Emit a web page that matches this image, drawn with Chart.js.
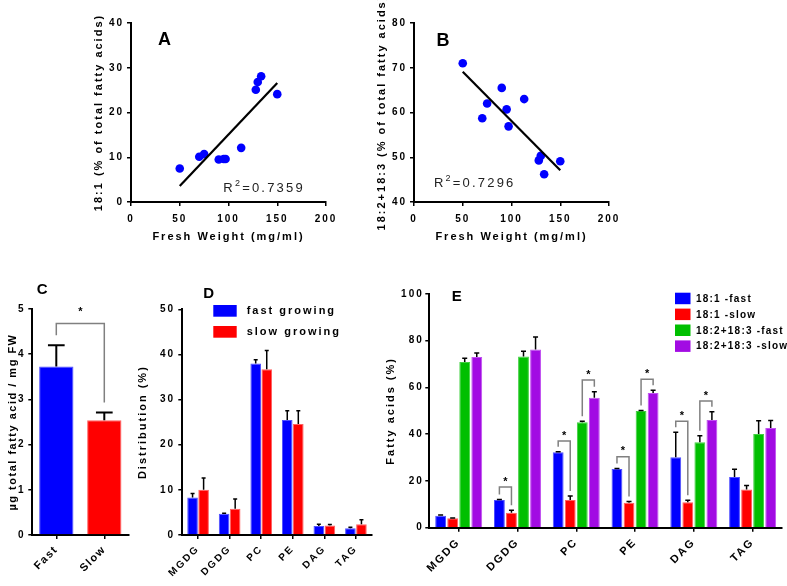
<!DOCTYPE html>
<html>
<head>
<meta charset="utf-8">
<script src="https://cdn.jsdelivr.net/npm/chart.js@4.4.1/dist/chart.umd.min.js"></script>
<style>
  html, body { margin: 0; background: #fff; }
  #fig { position: relative; width: 787px; height: 586px; overflow: hidden; }
  #fig canvas { position: absolute; }
</style>
</head>
<body>
<div id="fig">
  <canvas id="chartA" width="345" height="255" style="left:0;top:0"></canvas>
  <canvas id="chartB" width="345" height="255" style="left:283px;top:0"></canvas>
  <canvas id="chartC" width="140" height="316" style="left:0;top:270px"></canvas>
  <canvas id="chartD" width="250" height="316" style="left:130px;top:270px"></canvas>
  <canvas id="chartE" width="417" height="316" style="left:370px;top:270px"></canvas>
</div>
<script>
const FONT = "'Liberation Sans', Arial, sans-serif";
const BLUE = '#0000FF', RED = '#FF0000', GREEN = '#00BF00', PURPLE = '#A20BE3';

// A + B: fresh weight vs fatty acid share
const freshWeight = [50, 70, 75, 90, 95, 97, 113, 128, 130, 133.5, 150];
const oleicShare = [7.5, 10.1, 10.7, 9.5, 9.6, 9.6, 12.1, 25.1, 26.8, 28.1, 24.1];
const polyShare = [71.0, 58.7, 62.0, 65.5, 60.7, 56.9, 63.0, 49.3, 50.3, 46.2, 49.1];
const fitLineX = [50, 150];
const fitA = [3.6, 26.6];
const fitB = [69.1, 47.1];

// C: total fatty acids
const growthGroups = ['Fast', 'Slow'];
const totalFA = [3.73, 2.54];
const totalFAErr = [0.47, 0.17];

// D: lipid class distribution
const lipidClasses = ['MGDG', 'DGDG', 'PC', 'PE', 'DAG', 'TAG'];
const distFast = [8.3, 4.7, 38.0, 25.5, 2.0, 1.5];
const distFastErr = [0.9, 0.1, 0.8, 2.0, 0.4, 0.2];
const distSlow = [10.0, 5.8, 36.7, 24.6, 2.1, 2.4];
const distSlowErr = [2.6, 2.2, 4.2, 2.9, 0.2, 1.0];

// E: fatty acids per lipid class
const fa181Fast = [5.1, 11.8, 32.3, 25.1, 30.1, 21.7];
const fa181FastErr = [0.3, 0.3, 0.2, 0.2, 10.7, 3.3];
const fa181Slow = [4.0, 6.4, 11.9, 10.7, 10.9, 16.3];
const fa181SlowErr = [0.2, 1.1, 1.7, 0.5, 0.8, 1.8];
const fa18xFast = [70.9, 73.3, 45.1, 49.9, 36.6, 40.1];
const fa18xFastErr = [1.6, 2.2, 0.5, 0.3, 2.7, 5.7];
const fa18xSlow = [73.0, 76.3, 55.6, 57.6, 46.1, 42.7];
const fa18xSlowErr = [1.8, 5.3, 2.6, 1.2, 3.5, 3.2];
// significance brackets: [category, datasetA, datasetB, top]
const sigE = [[1, 0, 1, 17.4], [2, 0, 1, 37.1], [2, 2, 3, 63.2], [3, 0, 1, 30.4], [3, 2, 3, 63.5], [4, 0, 1, 45.6], [4, 2, 3, 54.2]];

Chart.defaults.font.family = FONT;
Chart.defaults.font.weight = 'bold';
Chart.defaults.color = '#000';
Chart.defaults.animation = false;
Chart.defaults.plugins.legend.display = false;
Chart.defaults.plugins.tooltip.enabled = false;

// letter spacing for all of the chart's own text
const spacingPlugin = {
    id: 'spacing',
    beforeDraw(chart, args, opts) {
        chart.ctx.letterSpacing = (opts.px || 0) + 'px';
    }
};

const notesPlugin = {
    id: 'notes',
    afterDraw(chart, args, opts) {
        const ctx = chart.ctx;
        (opts.items || []).forEach(n => {
            ctx.save();
            ctx.letterSpacing = '0px';
            ctx.font = n.font;
            ctx.fillStyle = '#000';
            ctx.textAlign = 'left';
            ctx.textBaseline = 'alphabetic';
            ctx.fillText(n.text, n.x, n.y);
            ctx.restore();
        });
    }
};

const r2Plugin = {
    id: 'r2',
    afterDraw(chart, args, opts) {
        if (!opts.text) return;
        const { ctx, scales } = chart;
        let px = scales.x.getPixelForValue(opts.x);
        const py = scales.y.getPixelForValue(opts.y);
        ctx.save();
        ctx.letterSpacing = '2.2px';
        ctx.fillStyle = '#222';
        ctx.textBaseline = 'alphabetic';
        ctx.font = `13px ${FONT}`;
        ctx.fillText('R', px, py);
        px += ctx.measureText('R').width;
        ctx.font = `9px ${FONT}`;
        ctx.fillText('2', px, py - 6);
        px += ctx.measureText('2').width;
        ctx.font = `13px ${FONT}`;
        ctx.fillText('=' + opts.text, px, py);
        ctx.restore();
    }
};

const errorBarPlugin = {
    id: 'errorBars',
    afterDatasetsDraw(chart, args, opts) {
        const ctx = chart.ctx;
        const y = chart.scales.y;
        chart.data.datasets.forEach((ds, i) => {
            if (!ds.errors) return;
            chart.getDatasetMeta(i).data.forEach((bar, j) => {
                const top = y.getPixelForValue(ds.data[j] + ds.errors[j]);
                ctx.save();
                ctx.strokeStyle = '#000';
                ctx.lineWidth = opts.width || 1.5;
                ctx.beginPath();
                ctx.moveTo(bar.x, bar.y);
                ctx.lineTo(bar.x, top);
                ctx.moveTo(bar.x - opts.cap / 2, top);
                ctx.lineTo(bar.x + opts.cap / 2, top);
                ctx.stroke();
                ctx.restore();
            });
        });
    }
};

const bracketPlugin = {
    id: 'brackets',
    afterDatasetsDraw(chart, args, opts) {
        if (!opts.items) return;
        const ctx = chart.ctx;
        const y = chart.scales.y;
        const tip = (ds, idx) => {
            const d = chart.data.datasets[ds];
            const bar = chart.getDatasetMeta(ds).data[idx];
            return { x: bar.x, y: y.getPixelForValue(d.data[idx] + (d.errors ? d.errors[idx] : 0)) };
        };
        opts.items.forEach(b => {
            const a = tip(b.from[0], b.from[1]);
            const c = tip(b.to[0], b.to[1]);
            const top = y.getPixelForValue(b.top);
            ctx.save();
            ctx.strokeStyle = '#808080';
            ctx.lineWidth = 1.5;
            ctx.beginPath();
            ctx.moveTo(a.x, a.y - opts.gap);
            ctx.lineTo(a.x, top);
            ctx.lineTo(c.x, top);
            ctx.lineTo(c.x, c.y - opts.gap);
            ctx.stroke();
            ctx.letterSpacing = '0px';
            ctx.fillStyle = '#000';
            ctx.font = `bold 11px ${FONT}`;
            ctx.textAlign = 'center';
            ctx.textBaseline = 'alphabetic';
            ctx.fillText('*', (a.x + c.x) / 2, top - opts.lift + 6.3);
            ctx.restore();
        });
    }
};

const boxLegendPlugin = {
    id: 'boxLegend',
    afterDraw(chart, args, opts) {
        if (opts.x === undefined) return;
        const ctx = chart.ctx;
        chart.data.datasets.forEach((ds, i) => {
            const top = opts.y + i * opts.step;
            ctx.save();
            ctx.fillStyle = ds.backgroundColor;
            ctx.fillRect(opts.x, top, opts.boxW, opts.boxH);
            ctx.letterSpacing = opts.spacing + 'px';
            ctx.font = opts.font;
            ctx.fillStyle = '#000';
            ctx.textBaseline = 'middle';
            ctx.textAlign = 'left';
            ctx.fillText(ds.label, opts.x + opts.boxW + opts.textGap, top + opts.boxH / 2 + 0.5);
            ctx.restore();
        });
    }
};

Chart.register(spacingPlugin, notesPlugin, r2Plugin, errorBarPlugin, bracketPlugin, boxLegendPlugin);

function yAxis(o) {
    return {
        min: o.min, max: o.max,
        afterFit: s => { s.width = o.width; },
        border: { color: '#000', width: 2 },
        grid: { drawOnChartArea: false, tickLength: 4, color: '#000', lineWidth: 1.5 },
        ticks: { stepSize: o.step, padding: o.pad, font: { size: 10, weight: 'bold' }, color: '#000' },
        title: { display: true, text: o.title, font: { size: 11, weight: 'bold' }, color: '#000', padding: { top: o.titlePad, bottom: 0 } }
    };
}

function catAxis(o) {
    return {
        afterFit: s => { s.height = o.height; },
        border: { color: '#000', width: 2 },
        grid: { drawOnChartArea: false, offset: false, tickLength: 4, color: '#000', lineWidth: 1.5 },
        ticks: { autoSkip: false, minRotation: 45, maxRotation: 45, padding: o.pad, font: { size: o.size, weight: 'bold' }, color: '#000' }
    };
}

function weightAxis() {
    return {
        type: 'linear', min: 0, max: 200,
        afterFit: s => { s.height = 48; },
        border: { color: '#000', width: 2 },
        grid: { drawOnChartArea: false, tickLength: 4, color: '#000', lineWidth: 1.5 },
        ticks: { stepSize: 50, padding: 7, font: { size: 10, weight: 'bold' }, color: '#000' },
        title: { display: true, text: 'Fresh Weight (mg/ml)', font: { size: 11, weight: 'bold' }, color: '#000', padding: { top: 0, bottom: 6 } }
    };
}

function scatterChart(id, values, fit, yOpts, letter, r2) {
    new Chart(document.getElementById(id), {
        type: 'scatter',
        data: {
            datasets: [{
                type: 'line',
                data: fitLineX.map((x, i) => ({ x, y: fit[i] })),
                borderColor: '#000',
                borderWidth: 2.2,
                pointRadius: 0
            }, {
                data: freshWeight.map((x, i) => ({ x, y: values[i] })),
                backgroundColor: BLUE,
                borderWidth: 0,
                pointRadius: 4.3
            }]
        },
        options: {
            responsive: false,
            layout: { padding: { left: 88, top: 23, right: 19, bottom: 5 } },
            scales: { x: weightAxis(), y: yAxis(yOpts) },
            plugins: {
                spacing: { px: 2 },
                notes: { items: [letter] },
                r2: r2
            }
        }
    });
}

scatterChart('chartA', oleicShare, fitA,
    { min: 0, max: 40, step: 10, width: 43, pad: 3, titlePad: 4, title: '18:1 (% of total fatty acids)' },
    { text: 'A', x: 158, y: 45, font: `bold 18px ${FONT}` },
    { text: '0.7359', x: 94.7, y: 2.2 });

scatterChart('chartB', polyShare, fitB,
    { min: 40, max: 80, step: 10, width: 43, pad: 3, titlePad: 4, title: '18:2+18:3 (% of total fatty acids)' },
    { text: 'B', x: 153.5, y: 46, font: `bold 18px ${FONT}` },
    { text: '0.7296', x: 20.5, y: 43.3 });

// C
new Chart(document.getElementById('chartC'), {
    type: 'bar',
    data: {
        labels: growthGroups,
        datasets: [{
            data: totalFA,
            errors: totalFAErr,
            backgroundColor: [BLUE, RED],
            borderColor: ['#5050FF', '#FF6060'],
            borderWidth: 1,
            categoryPercentage: 1,
            barPercentage: 0.715
        }]
    },
    options: {
        responsive: false,
        layout: { padding: { left: 2, top: 39, right: 11.7, bottom: 0 } },
        scales: {
            x: catAxis({ height: 51, pad: 4, size: 11 }),
            y: yAxis({ min: 0, max: 5, step: 1, width: 30.3, pad: 3.3, titlePad: 4.7, title: 'µg total fatty acid / mg FW' })
        },
        plugins: {
            spacing: { px: 1.5 },
            errorBars: { cap: 16.7, width: 2 },
            brackets: { gap: 10, lift: 15, items: [{ from: [0, 0], to: [0, 1], top: 4.68 }] },
            notes: { items: [{ text: 'C', x: 36.7, y: 24, font: `bold 15px ${FONT}` }] }
        }
    }
});

// D
new Chart(document.getElementById('chartD'), {
    type: 'bar',
    data: {
        labels: lipidClasses,
        datasets: [{
            label: 'fast growing',
            data: distFast,
            errors: distFastErr,
            backgroundColor: BLUE,
            borderColor: '#5050FF',
            borderWidth: 1
        }, {
            label: 'slow growing',
            data: distSlow,
            errors: distSlowErr,
            backgroundColor: RED,
            borderColor: '#FF6060',
            borderWidth: 1
        }]
    },
    options: {
        responsive: false,
        datasets: { bar: { categoryPercentage: 0.7, barPercentage: 0.96 } },
        layout: { padding: { left: 2, top: 39.3, right: 8.3, bottom: 0 } },
        scales: {
            x: catAxis({ height: 51, pad: 4, size: 10 }),
            y: yAxis({ min: 0, max: 50, step: 10, width: 50.3, pad: 3.3, titlePad: 4.7, title: 'Distribution (%)' })
        },
        plugins: {
            spacing: { px: 2 },
            errorBars: { cap: 4, width: 1.5 },
            boxLegend: { x: 83.3, y: 35, step: 21, boxW: 23.4, boxH: 11.7, textGap: 10, spacing: 2, font: `bold 11px ${FONT}` },
            notes: { items: [{ text: 'D', x: 73.3, y: 28.3, font: `bold 15px ${FONT}` }] }
        }
    }
});

// E
const seriesE = [
    ['18:1 -fast', fa181Fast, fa181FastErr, BLUE, '#5050FF'],
    ['18:1 -slow', fa181Slow, fa181SlowErr, RED, '#FF6060'],
    ['18:2+18:3 -fast', fa18xFast, fa18xFastErr, GREEN, '#40D040'],
    ['18:2+18:3 -slow', fa18xSlow, fa18xSlowErr, PURPLE, '#C050F0']
];

new Chart(document.getElementById('chartE'), {
    type: 'bar',
    data: {
        labels: lipidClasses,
        datasets: seriesE.map(s => ({
            label: s[0], data: s[1], errors: s[2],
            backgroundColor: s[3], borderColor: s[4], borderWidth: 1
        }))
    },
    options: {
        responsive: false,
        datasets: { bar: { categoryPercentage: 0.82, barPercentage: 0.9 } },
        layout: { padding: { left: 8, top: 24, right: 5, bottom: 0 } },
        scales: {
            x: catAxis({ height: 58.3, pad: 4, size: 11 }),
            y: yAxis({ min: 0, max: 100, step: 20, width: 51.3, pad: 1.5, titlePad: 6.4, title: 'Fatty acids (%)' })
        },
        plugins: {
            spacing: { px: 2 },
            errorBars: { cap: 5, width: 1.5 },
            brackets: { gap: 5, lift: 8.5, items: sigE.map(b => ({ from: [b[1], b[0]], to: [b[2], b[0]], top: b[3] })) },
            boxLegend: { x: 305, y: 22.7, step: 15.9, boxW: 15.5, boxH: 11.5, textGap: 5.5, spacing: 1.2, font: `bold 10px ${FONT}` },
            notes: { items: [{ text: 'E', x: 81.7, y: 31, font: `bold 15px ${FONT}` }] }
        }
    }
});
</script>
</body>
</html>
